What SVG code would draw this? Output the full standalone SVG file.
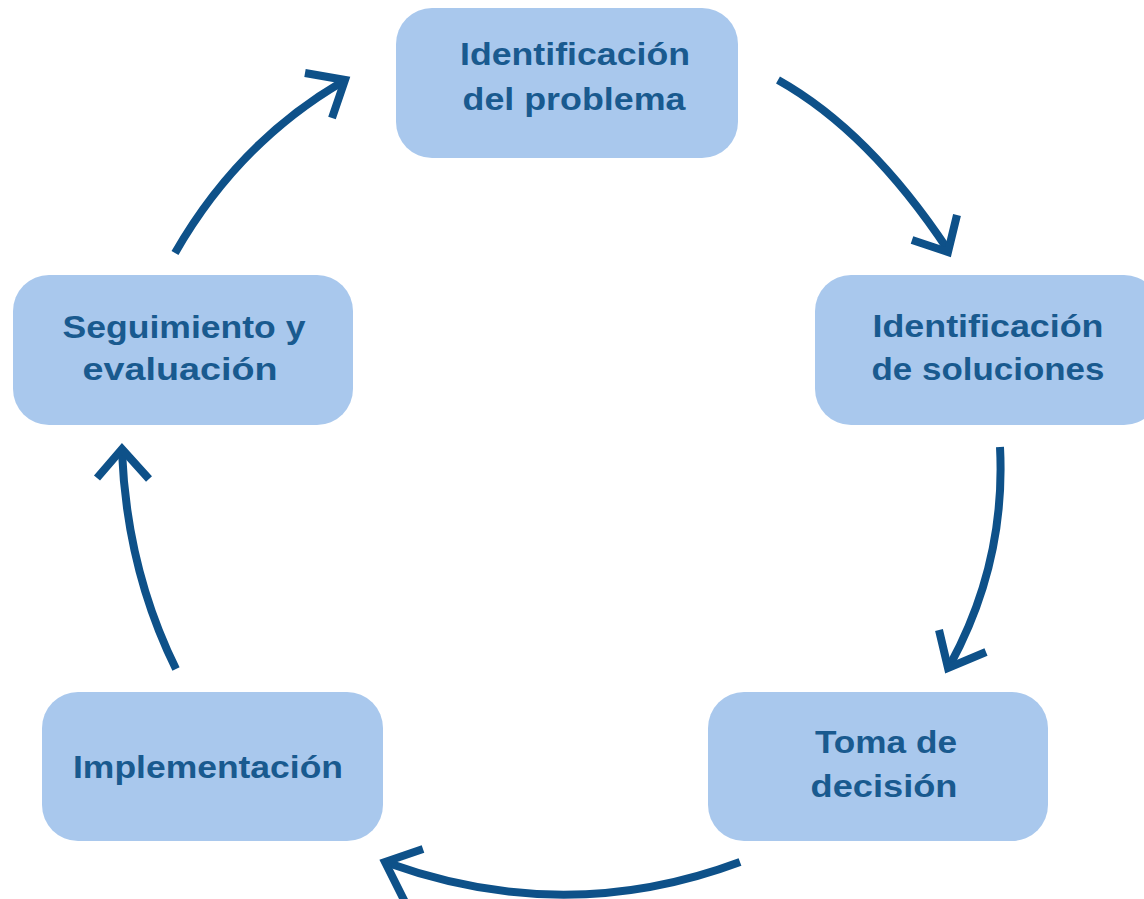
<svg xmlns="http://www.w3.org/2000/svg" width="1144" height="899" viewBox="0 0 1144 899">
<style>
.box{fill:#a9c8ed;}
.lbl{font-family:"Liberation Sans",Arial,sans-serif;font-weight:bold;font-size:31px;fill:#195a8f;text-anchor:middle;}
.arr{fill:none;stroke:#0e5189;stroke-width:8;stroke-linecap:butt;stroke-linejoin:miter;}
</style>
<rect width="1144" height="899" fill="#ffffff"/>
<g id="n1">
<rect class="box" x="396" y="8" width="342" height="150" rx="36"/>
<text class="lbl" x="575" y="65" textLength="230" lengthAdjust="spacingAndGlyphs">Identificación</text>
<text class="lbl" x="574" y="110" textLength="223" lengthAdjust="spacingAndGlyphs">del problema</text>
</g>
<g id="n2">
<rect class="box" x="815" y="275" width="345" height="150" rx="36"/>
<text class="lbl" x="988" y="337" textLength="231" lengthAdjust="spacingAndGlyphs">Identificación</text>
<text class="lbl" x="988" y="380" textLength="233" lengthAdjust="spacingAndGlyphs">de soluciones</text>
</g>
<g id="n3">
<rect class="box" x="13" y="275" width="340" height="150" rx="36"/>
<text class="lbl" x="184" y="338" textLength="243" lengthAdjust="spacingAndGlyphs">Seguimiento y</text>
<text class="lbl" x="180" y="380" textLength="195" lengthAdjust="spacingAndGlyphs">evaluación</text>
</g>
<g id="n4">
<rect class="box" x="42" y="692" width="341" height="149" rx="36"/>
<text class="lbl" x="208" y="778" textLength="270" lengthAdjust="spacingAndGlyphs">Implementación</text>
</g>
<g id="n5">
<rect class="box" x="708" y="692" width="340" height="149" rx="36"/>
<text class="lbl" x="886" y="753" textLength="142" lengthAdjust="spacingAndGlyphs">Toma de</text>
<text class="lbl" x="884" y="797" textLength="147" lengthAdjust="spacingAndGlyphs">decisión</text>
</g>
<g id="connectors">
<path class="arr" d="M778,80 Q869,131 948,250"/>
<path class="arr" d="M912,240 L948,252 L957,215"/>
<path class="arr" d="M1000,447 Q1006,562 950,665"/>
<path class="arr" d="M939,630 L948,668 L986,652"/>
<path class="arr" d="M740,862 Q566,927 388,863"/>
<path class="arr" d="M423,849 L385,862 L405,902"/>
<path class="arr" d="M176,669 Q127,570 122,452"/>
<path class="arr" d="M97,478 L122,449 L149,479"/>
<path class="arr" d="M175,253 Q238,143 342,82"/>
<path class="arr" d="M305,73 L345,80 L332,118"/>
</g>
</svg>
